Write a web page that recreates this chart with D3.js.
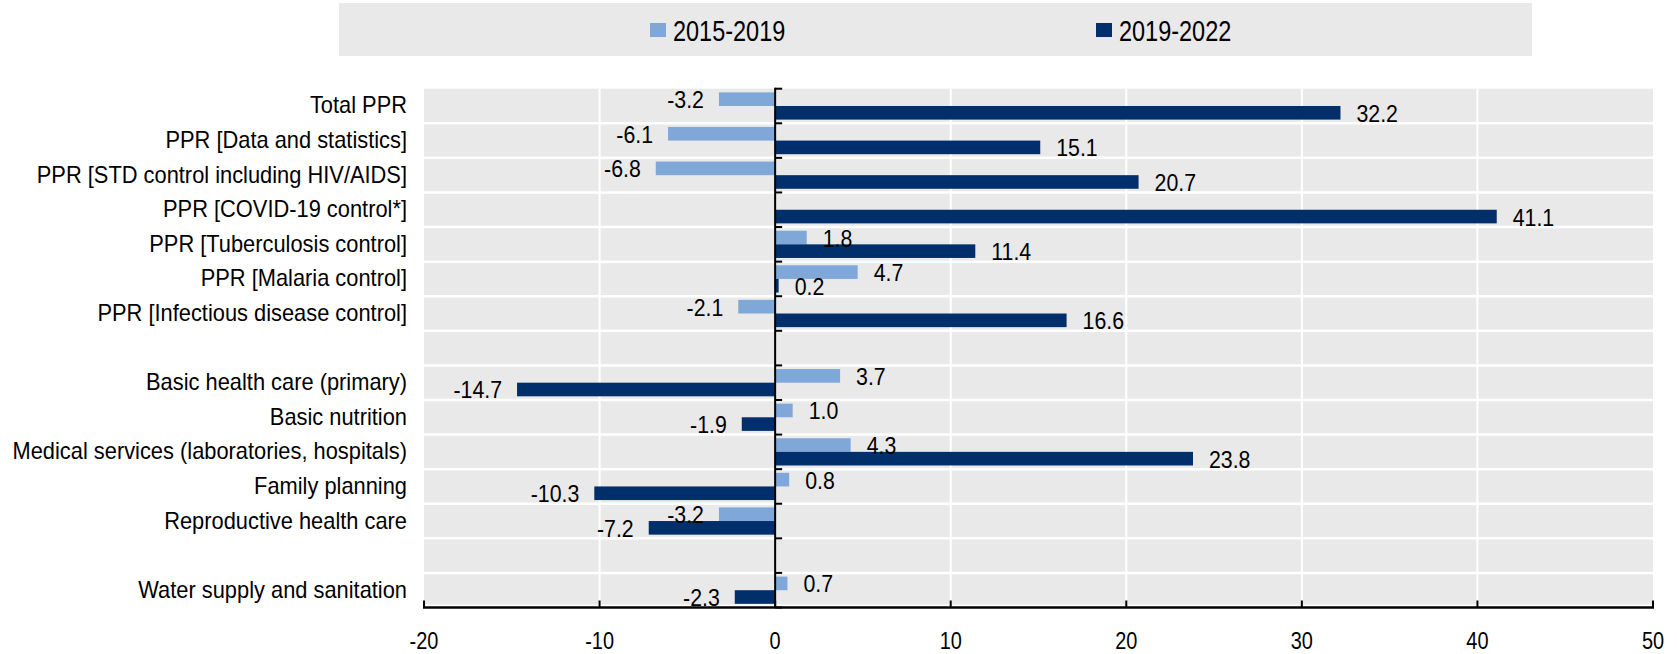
<!DOCTYPE html>
<html>
<head>
<meta charset="utf-8">
<script src="https://cdn.jsdelivr.net/npm/d3@7"></script>
<style>
  html, body { margin: 0; padding: 0; background: #ffffff; }
  svg { display: block; }
  text { font-family: "Liberation Sans", Arial, sans-serif; fill: #000; }
</style>
</head>
<body>
<svg id="chart" width="1677" height="654"></svg>
<script>
// ---------------- data ----------------
const categories = [
  "Total PPR",
  "PPR [Data and statistics]",
  "PPR [STD control including HIV/AIDS]",
  "PPR [COVID-19 control*]",
  "PPR [Tuberculosis control]",
  "PPR [Malaria control]",
  "PPR [Infectious disease control]",
  "",
  "Basic health care (primary)",
  "Basic nutrition",
  "Medical services (laboratories, hospitals)",
  "Family planning",
  "Reproductive health care",
  "",
  "Water supply and sanitation"
];
const seriesNames = ["2015-2019", "2019-2022"];
const values2015_2019 = [-3.2, -6.1, -6.8, null, 1.8, 4.7, -2.1, null, 3.7, 1.0, 4.3, 0.8, -3.2, null, 0.7];
const values2019_2022 = [32.2, 15.1, 20.7, 41.1, 11.4, 0.2, 16.6, null, -14.7, -1.9, 23.8, -10.3, -7.2, null, -2.3];
const xTicks = [-20, -10, 0, 10, 20, 30, 40, 50];
const seriesColors = ["#7FA8D9", "#002F6C"];

// ---------------- layout ----------------
const svg = d3.select("#chart");
const plotLeft = 424, plotRight = 1653, plotTop = 88.7, plotBottom = 607.5;
const x = d3.scaleLinear().domain([-20, 50]).range([plotLeft, plotRight]);
const rows = d3.range(categories.length);
const y = d3.scaleBand().domain(rows).range([plotTop, plotBottom]).padding(0);
const sub = d3.scaleBand().domain([0, 1]).range([0, y.bandwidth()]).paddingInner(0).paddingOuter(0.27);

function sText(g, str, tx, ty, size, sx, anchor) {
  return g.append("text")
    .attr("transform", `translate(${tx},${ty}) scale(${sx},1)`)
    .attr("font-size", size)
    .attr("text-anchor", anchor)
    .text(str);
}

// legend
const legend = svg.append("g");
legend.append("rect").attr("x", 339).attr("y", 3).attr("width", 1193).attr("height", 53).attr("fill", "#E9E9E9");
const legendX = [650, 1096];
seriesNames.forEach((name, i) => {
  legend.append("rect").attr("x", legendX[i]).attr("y", 23).attr("width", 16).attr("height", 14).attr("fill", seriesColors[i]);
  sText(legend, name, legendX[i] + 23, 40.5, 29, 0.81, "start");
});

// plot background
svg.append("rect").attr("x", plotLeft).attr("y", plotTop).attr("width", plotRight - plotLeft)
  .attr("height", plotBottom - plotTop - 3).attr("fill", "#E9E9E9");

// vertical gridlines
svg.append("g").selectAll("line").data(xTicks.filter(t => t !== -20 && t !== 50 && t !== 0)).join("line")
  .attr("x1", d => x(d)).attr("x2", d => x(d)).attr("y1", plotTop).attr("y2", plotBottom)
  .attr("stroke", "#ffffff").attr("stroke-width", 2);

// horizontal separators
svg.append("g").selectAll("line").data(rows.slice(1)).join("line")
  .attr("x1", plotLeft).attr("x2", plotRight).attr("y1", d => y(d)).attr("y2", d => y(d))
  .attr("stroke", "#ffffff").attr("stroke-width", 2.5);

// bars
const seriesVals = [values2015_2019, values2019_2022];
seriesVals.forEach((vals, si) => {
  const data = rows.map(i => ({ i, v: vals[i] })).filter(d => d.v !== null);
  svg.append("g").selectAll("rect").data(data).join("rect")
    .attr("x", d => Math.min(x(0), x(d.v)))
    .attr("width", d => Math.max(Math.abs(x(d.v) - x(0)), 1.5))
    .attr("y", d => y(d.i) + sub(si))
    .attr("height", sub.bandwidth())
    .attr("fill", seriesColors[si]);
});

// axes
const axisG = svg.append("g");
axisG.append("line").attr("x1", x(0)).attr("x2", x(0)).attr("y1", plotTop - 1).attr("y2", plotBottom)
  .attr("stroke", "#000").attr("stroke-width", 2);
axisG.selectAll(".rt").data(rows.concat([categories.length])).join("line")
  .attr("x1", x(0)).attr("x2", x(0) + 7)
  .attr("y1", d => d < categories.length ? y(d) : plotBottom)
  .attr("y2", d => d < categories.length ? y(d) : plotBottom)
  .attr("stroke", "#000").attr("stroke-width", 2);
axisG.append("line").attr("x1", plotLeft - 1).attr("x2", plotRight + 1).attr("y1", plotBottom).attr("y2", plotBottom)
  .attr("stroke", "#000").attr("stroke-width", 2.5);
axisG.selectAll(".bt").data(xTicks).join("line")
  .attr("x1", d => x(d)).attr("x2", d => x(d)).attr("y1", plotBottom).attr("y2", plotBottom - 7)
  .attr("stroke", "#000").attr("stroke-width", 2);
xTicks.forEach(t => sText(axisG, String(t), x(t), 649, 24, 0.83, "middle"));

// category labels
categories.forEach((c, i) => {
  if (c) sText(svg, c, 407, y(i) + y.bandwidth() / 2 + 7.5, 23, 0.95, "end");
});

// value labels
seriesVals.forEach((vals, si) => {
  vals.forEach((v, i) => {
    if (v === null) return;
    const cy = y(i) + sub(si) + sub.bandwidth() / 2 + 9;
    const end = x(v);
    if (v >= 0) sText(svg, v.toFixed(1), end + 16, cy, 24.5, 0.87, "start");
    else sText(svg, v.toFixed(1), end - 15, cy, 24.5, 0.87, "end");
  });
});
</script>
</body>
</html>
